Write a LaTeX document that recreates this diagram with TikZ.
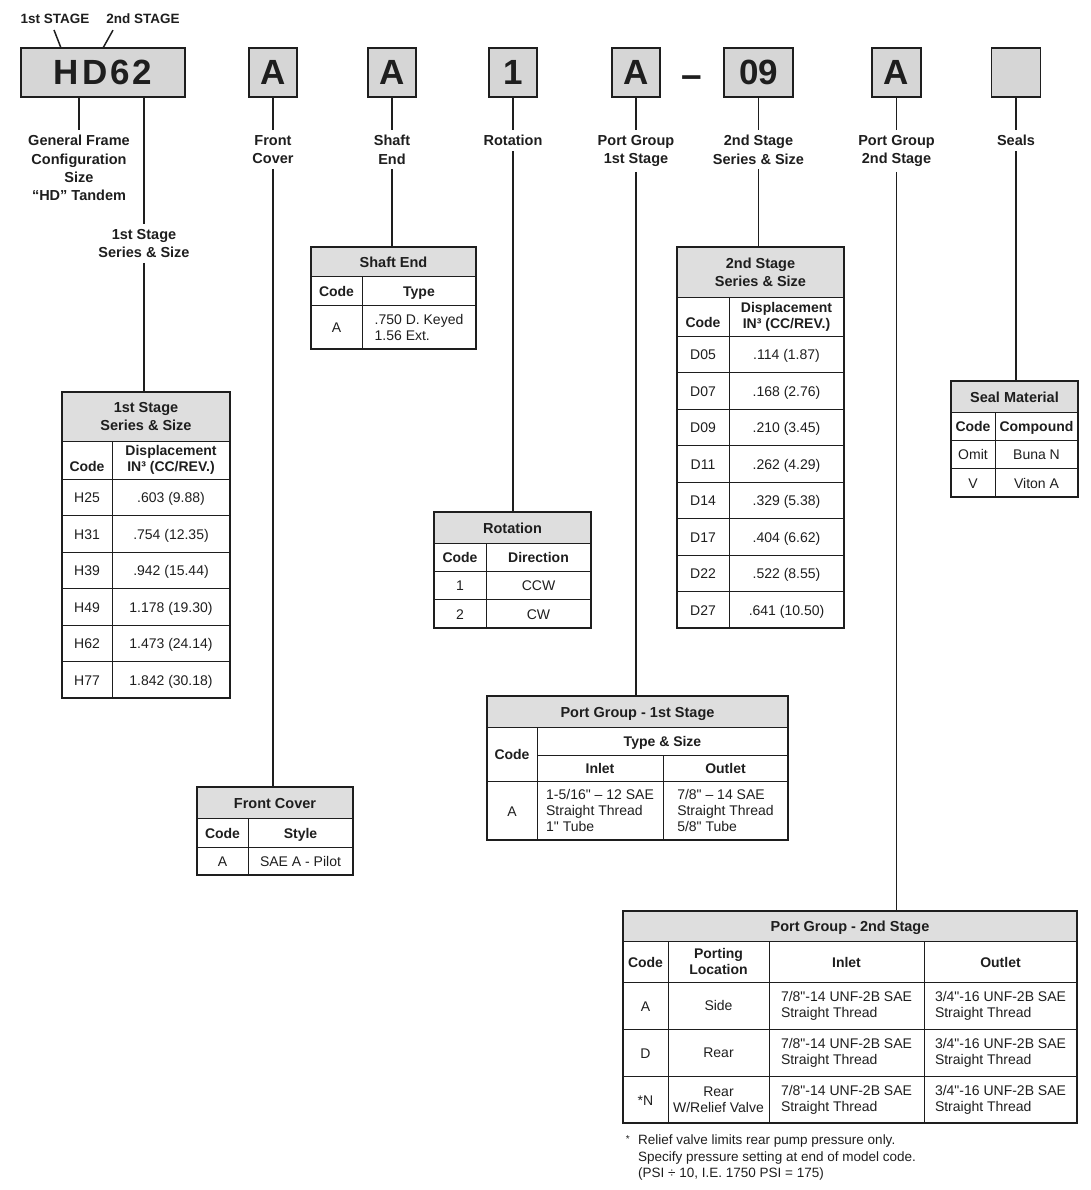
\documentclass[tikz,border=0pt]{standalone}
\usepackage{fontspec}
\setmainfont{Liberation Sans}[Ligatures=TeXOff]
\usepackage{xcolor}
\usepackage{tikz}
\usetikzlibrary{positioning}
\definecolor{myink}{RGB}{30,30,30}
\definecolor{mygrey}{RGB}{214,214,214}
\definecolor{mytitle}{RGB}{222,222,222}

\begin{document}
\begin{tikzpicture}[x=1pt, y=-1pt,
      codebox/.style = {draw=myink, line width=1.6pt, fill=mygrey, text=myink,
                        inner sep=0pt, outer sep=0pt, minimum height=49pt,
                        font=\bfseries\fontsize{35}{35}\selectfont},
      lbl/.style = {anchor=north, align=center, inner sep=5pt, text=myink,
                    font=\bfseries\fontsize{14.5}{18.3}\selectfont},
      link/.style = {draw=myink, line width=1.5pt},
      cell/.style 2 args = {draw=myink, line width=1pt, anchor=north west,
                    inner sep=0pt, outer sep=0pt, minimum width=#1,
                    minimum height=#2, align=center, text=myink,
                    font=\fontsize{14}{16}\selectfont},
      hdcell/.style 2 args = {cell={#1}{#2}, font=\bfseries\fontsize{14}{16}\selectfont},
      ttl/.style 2 args = {cell={#1}{#2}, fill=mytitle,
                    font=\bfseries\fontsize{14.5}{18}\selectfont},
      oneline/.style = {text height=12pt, text depth=1pt},
      tblframe/.style = {draw=myink, line width=1.8pt},
    ]
    \useasboundingbox (0,0) rectangle (1090,1190);

    % model code
    \node[font=\bfseries\fontsize{13.5}{16}\selectfont, text=myink, inner sep=1pt] (stg1) at (55,19) {1st STAGE};
    \node[font=\bfseries\fontsize{13.5}{16}\selectfont, text=myink, inner sep=1pt] (stg2) at (143,19) {2nd STAGE};
    \node[codebox, minimum width=164pt] (bxHD) at (103,72.5) {H\kern3pt D\kern3pt 6\kern3pt 2};
    \node[codebox, minimum width=48pt] (bxFC) at (273,72.5) {A};
    \node[codebox, minimum width=48pt] (bxSE) at (392,72.5) {A};
    \node[codebox, minimum width=48pt] (bxRot) at (513,72.5) {1};
    \node[codebox, minimum width=48pt] (bxP1) at (636,72.5) {A};
    \node[font=\bfseries\fontsize{37}{37}\selectfont, text=myink] (dash) at (692,82) {–};
    \node[codebox, minimum width=69pt] (bxSS) at (758.5,72.5) {09};
    \node[codebox, minimum width=49pt] (bxP2) at (896.5,72.5) {A};
    \node[codebox, minimum width=49pt] (bxSeal) at (1016,72.5) {};

    \draw[link] ([xshift=-1pt,yshift=-5pt]stg1.south) -- ([xshift=40pt]bxHD.north west);
    \draw[link] ([xshift=-30pt,yshift=-5pt]stg2.south) -- (bxHD.north);

    % labels
    \node[lbl] (lblGF) at (79,130) {General Frame\\Configuration\\Size\\“HD” Tandem};
    \node[lbl] (lbl1S) at (144,224) {1st Stage\\Series \& Size};
    \node[lbl] (lblFC) at (273,130) {Front\\Cover};
    \node[lbl] (lblSE) at (392,130) {Shaft\\End};
    \node[lbl] (lblRot) at (513,130) {Rotation};
    \node[lbl] (lblP1) at (636,130) {Port Group\\1st Stage};
    \node[lbl] (lblSS) at (758.5,130) {2nd Stage\\Series \& Size};
    \node[lbl] (lblP2) at (896.5,130) {Port Group\\2nd Stage};
    \node[lbl] (lblSeal) at (1016,130) {Seals};

    % 1st stage series & size
    \node[ttl={168}{49}] (t1) at (62,392) {1st Stage\\Series \& Size};
    \node[hdcell={50}{38}] (t1h1) at (62,441) {\vphantom{D}\\Code\vphantom{(}};
    \node[hdcell={118}{38}] (t1h2) at (112,441) {Displacement\\IN³ (CC/REV.)};
    \foreach \c/\d [count=\i from 0] in {H25/{.603 (9.88)}, H31/{.754 (12.35)},
        H39/{.942 (15.44)}, H49/{1.178 (19.30)}, H62/{1.473 (24.14)}, H77/{1.842 (30.18)}} {
      \node[cell={50}{36.5}, oneline] (t1c\i) at (62,{479+36.5*\i}) {\c};
      \node[cell={118}{36.5}, oneline] (t1d\i) at (112,{479+36.5*\i}) {\d};
    }
    \draw[tblframe] (t1.north west) rectangle (t1d5.south east);

    % shaft end
    \node[ttl={165}{29}, oneline] (t2) at (311,247) {Shaft End};
    \node[hdcell={51}{29}, oneline] (t2h1) at (311,276) {Code};
    \node[hdcell={114}{29}, oneline] (t2h2) at (362,276) {Type};
    \node[cell={51}{44}, oneline] (t2c0) at (311,305) {A};
    \node[cell={114}{44}, align=left] (t2d0) at (362,305) {.750 D. Keyed\\1.56 Ext.};
    \draw[tblframe] (t2.north west) rectangle (t2d0.south east);

    % 2nd stage series & size
    \node[ttl={167}{50}] (t3) at (677,247) {2nd Stage\\Series \& Size};
    \node[hdcell={52}{39}] (t3h1) at (677,297) {\vphantom{D}\\Code\vphantom{(}};
    \node[hdcell={115}{39}] (t3h2) at (729,297) {Displacement\\IN³ (CC/REV.)};
    \foreach \c/\d [count=\i from 0] in {D05/{.114 (1.87)}, D07/{.168 (2.76)},
        D09/{.210 (3.45)}, D11/{.262 (4.29)}, D14/{.329 (5.38)}, D17/{.404 (6.62)},
        D22/{.522 (8.55)}, D27/{.641 (10.50)}} {
      \node[cell={52}{36.5}, oneline] (t3c\i) at (677,{336+36.5*\i}) {\c};
      \node[cell={115}{36.5}, oneline] (t3d\i) at (729,{336+36.5*\i}) {\d};
    }
    \draw[tblframe] (t3.north west) rectangle (t3d7.south east);

    % seal material
    \node[ttl={127}{31}, oneline] (t4) at (951,381) {Seal Material};
    \node[hdcell={44}{28}, oneline] (t4h1) at (951,412) {Code};
    \node[hdcell={83}{28}, oneline] (t4h2) at (995,412) {Compound};
    \node[cell={44}{28.5}, oneline] (t4c0) at (951,440) {Omit};
    \node[cell={83}{28.5}, oneline] (t4d0) at (995,440) {Buna N};
    \node[cell={44}{28.5}, oneline] (t4c1) at (951,468.5) {V};
    \node[cell={83}{28.5}, oneline] (t4d1) at (995,468.5) {Viton A};
    \draw[tblframe] (t4.north west) rectangle (t4d1.south east);

    % rotation
    \node[ttl={157}{31}, oneline] (t5) at (434,512) {Rotation};
    \node[hdcell={52}{28}, oneline] (t5h1) at (434,543) {Code};
    \node[hdcell={105}{28}, oneline] (t5h2) at (486,543) {Direction};
    \node[cell={52}{28.5}, oneline] (t5c0) at (434,571) {1};
    \node[cell={105}{28.5}, oneline] (t5d0) at (486,571) {CCW};
    \node[cell={52}{28.5}, oneline] (t5c1) at (434,599.5) {2};
    \node[cell={105}{28.5}, oneline] (t5d1) at (486,599.5) {CW};
    \draw[tblframe] (t5.north west) rectangle (t5d1.south east);

    % port group - 1st stage
    \node[ttl={301}{31}, oneline] (t6) at (487,696) {Port Group - 1st Stage};
    \node[hdcell={50}{54}, oneline] (t6h1) at (487,727) {Code};
    \node[hdcell={251}{28}, oneline] (t6h2) at (537,727) {Type \& Size};
    \node[hdcell={126}{26}, oneline] (t6h3) at (537,755) {Inlet};
    \node[hdcell={125}{26}, oneline] (t6h4) at (663,755) {Outlet};
    \node[cell={50}{59}, oneline] (t6c0) at (487,781) {A};
    \node[cell={126}{59}, align=left] (t6d0) at (537,781) {1-5/16" – 12 SAE\\Straight Thread\\1" Tube};
    \node[cell={125}{59}, align=left] (t6e0) at (663,781) {7/8" – 14 SAE\\Straight Thread\\5/8" Tube};
    \draw[tblframe] (t6.north west) rectangle (t6e0.south east);

    % front cover
    \node[ttl={156}{31}, oneline] (t7) at (197,787) {Front Cover};
    \node[hdcell={51}{29}, oneline] (t7h1) at (197,818) {Code};
    \node[hdcell={105}{29}, oneline] (t7h2) at (248,818) {Style};
    \node[cell={51}{28}, oneline] (t7c0) at (197,847) {A};
    \node[cell={105}{28}, oneline] (t7d0) at (248,847) {SAE A - Pilot};
    \draw[tblframe] (t7.north west) rectangle (t7d0.south east);

    % port group - 2nd stage
    \node[ttl={454}{30}, oneline] (t8) at (623,911) {Port Group - 2nd Stage};
    \node[hdcell={45}{41}, oneline] (t8h1) at (623,941) {Code};
    \node[hdcell={101}{41}] (t8h2) at (668,941) {Porting\\Location};
    \node[hdcell={155}{41}, oneline] (t8h3) at (769,941) {Inlet};
    \node[hdcell={153}{41}, oneline] (t8h4) at (924,941) {Outlet};
    \foreach \c/\p [count=\i from 0] in {A/Side, D/Rear, *N/{Rear\\W/Relief Valve}} {
      \node[cell={45}{47}, oneline] (t8c\i) at (623,{982+47*\i}) {\c};
      \node[cell={101}{47}] (t8p\i) at (668,{982+47*\i}) {\p};
      \node[cell={155}{47}, align=left] (t8d\i) at (769,{982+47*\i}) {7/8"-14 UNF-2B SAE\\Straight Thread};
      \node[cell={153}{47}, align=left] (t8e\i) at (924,{982+47*\i}) {3/4"-16 UNF-2B SAE\\Straight Thread};
    }
    \draw[tblframe] (t8.north west) rectangle (t8e2.south east);
    \node[anchor=north west, align=left, inner sep=0pt, text=myink,
          font=\fontsize{13.5}{16.5}\selectfont] (fnote) at (638,1135)
      {Relief valve limits rear pump pressure only.\\Specify pressure setting at end of model code.\\(PSI ÷ 10, I.E. 1750 PSI = 175)};
    \node[anchor=north east, inner sep=0pt, text=myink, font=\fontsize{10}{10}\selectfont]
      (fstar) at ([xshift=-8pt]fnote.north west) {*};

    % connectors
    \draw[link] (bxHD.south -| lblGF.north) -- (lblGF.north);
    \draw[link] (bxHD.south -| lbl1S.north) -- (lbl1S.north);
    \draw[link] (lbl1S.south) -- (lbl1S.south |- t1.north);
    \draw[link] (bxFC.south) -- (lblFC.north);
    \draw[link] (lblFC.south) -- (lblFC.south |- t7.north);
    \draw[link] (bxSE.south) -- (lblSE.north);
    \draw[link] (lblSE.south) -- (lblSE.south |- t2.north);
    \draw[link] (bxRot.south) -- (lblRot.north);
    \draw[link] (lblRot.south) -- (lblRot.south |- t5.north);
    \draw[link] (bxP1.south) -- (lblP1.north);
    \draw[link] (lblP1.south) -- (lblP1.south |- t6.north);
    \draw[link] (bxSS.south) -- (lblSS.north);
    \draw[link] (lblSS.south) -- (lblSS.south |- t3.north);
    \draw[link] (bxP2.south) -- (lblP2.north);
    \draw[link] (lblP2.south) -- (lblP2.south |- t8.north);
    \draw[link] (bxSeal.south) -- (lblSeal.north);
    \draw[link] (lblSeal.south) -- (lblSeal.south |- t4.north);
  \end{tikzpicture}
\end{document}
